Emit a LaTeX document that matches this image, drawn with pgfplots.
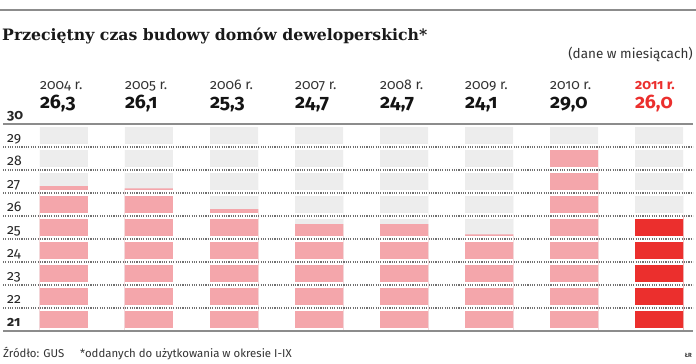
\documentclass[border=0pt]{standalone}
\usepackage{pgfplots}
\pgfplotsset{compat=1.18}
\usepackage{pgfplotstable}
\usepackage{fontspec}
\setmainfont{Fira Sans}[Numbers=OldStyle]
\newfontfamily\titlefont{DejaVu Serif}
\definecolor{cgray}{HTML}{EDEDED}
\definecolor{cpink}{HTML}{F4A6AB}
\definecolor{cred}{HTML}{EB2F2D}
\definecolor{cdot}{HTML}{707070}
\definecolor{caxis}{HTML}{8C8C8C}
\definecolor{ctext}{HTML}{333333}

% visual bar tops (column v: pink bars, column r: highlighted 2011 bar)
\pgfplotstableread{
x v r
0 27.30 0
1 27.20 0
2 26.30 0
3 25.65 0
4 25.65 0
5 25.20 0
6 29.00 0
7 0 26.00
}\bars

\begin{document}
\begin{tikzpicture}
\path[use as bounding box] (0pt,0pt) rectangle (696pt,364pt);
\draw[line width=2pt, caxis] (0pt,354pt) -- (696pt,354pt);
\node[anchor=base west, inner sep=0pt, text=black!90] at (2pt,323pt)
  {\titlefont\bfseries\fontsize{15.7}{18}\selectfont Przeciętny czas budowy domów deweloperskich*};
\node[anchor=base east, inner sep=0pt, text=ctext] at (693pt,305.7pt)
  {\fontsize{13.5}{15}\selectfont (dane w miesiącach)};
\node[anchor=base west, inner sep=0pt, text=ctext] at (3pt,6.5pt)
  {\fontsize{11.4}{12}\selectfont Źródło: GUS};
\node[anchor=base west, inner sep=0pt, text=ctext] at (80pt,6.5pt)
  {\fontsize{11.4}{12}\selectfont *oddanych do użytkowania w okresie I-IX};
\node[anchor=base east, inner sep=0pt, text=ctext] at (692pt,6pt)
  {\fontsize{6}{7}\selectfont\bfseries ŁR};

\begin{axis}[
  at={(3pt,33pt)}, anchor=south west,
  scale only axis, width=690pt, height=207pt,
  xmin=-0.7176, xmax=7.4, ymin=21, ymax=30,
  axis line style={draw=none},
  major tick length=0pt,
  xtick=\empty,
  ytick={22,...,29},
  ymajorgrids,
  major grid style={draw=cdot, line width=1.2pt, dash pattern=on 1.1pt off 1.2pt},
  extra y ticks={21,30},
  extra y tick style={
    major grid style={solid, draw=caxis, line width=2pt},
    yticklabel style={font=\fontsize{14}{14}\selectfont\bfseries}},
  /pgf/number format/assume math mode=true,
  yticklabel style={anchor=base west, inner sep=0pt, xshift=4pt, yshift=4.7pt,
    font=\fontsize{14}{14}\selectfont, text=black!85},
  axis on top,
  clip mode=individual,
]
\pgfplotsinvokeforeach{29,28,...,21}{
  \addplot[ybar, bar width=48pt, bar shift=0pt, fill=cgray, draw=none]
    table[x=x, y expr=#1+0.86]{\bars};
  \addplot[ybar, bar width=48pt, bar shift=0pt, fill=cpink, draw=none]
    table[x=x, y expr={min(\thisrow{v},#1+0.86)}]{\bars};
  \addplot[ybar, bar width=48pt, bar shift=0pt, fill=cred, draw=none]
    table[x=x, y expr={min(\thisrow{r},#1+0.86)}]{\bars};
  \addplot[ybar, bar width=48pt, bar shift=0pt, fill=white, draw=none]
    table[x=x, y expr=#1+0.12]{\bars};
}
\tikzset{yl/.style={anchor=base west, inner sep=0pt, text=ctext, font=\fontsize{14}{14}\selectfont},
         vl/.style={anchor=base west, inner sep=0pt, text=black!92, font=\fontsize{19.5}{20}\selectfont\bfseries}}
\node[yl] at ([xshift=-24pt,yshift=34.7pt]axis cs:0,30) {2004 r.};
\node[yl] at ([xshift=-24pt,yshift=34.7pt]axis cs:1,30) {2005 r.};
\node[yl] at ([xshift=-24pt,yshift=34.7pt]axis cs:2,30) {2006 r.};
\node[yl] at ([xshift=-24pt,yshift=34.7pt]axis cs:3,30) {2007 r.};
\node[yl] at ([xshift=-24pt,yshift=34.7pt]axis cs:4,30) {2008 r.};
\node[yl] at ([xshift=-24pt,yshift=34.7pt]axis cs:5,30) {2009 r.};
\node[yl] at ([xshift=-24pt,yshift=34.7pt]axis cs:6,30) {2010 r.};
\node[yl, text=cred, font=\fontsize{14}{14}\selectfont\bfseries] at ([xshift=-24pt,yshift=34.7pt]axis cs:7,30) {2011 r.};
\node[vl] at ([xshift=-24pt,yshift=15.7pt]axis cs:0,30) {26,3};
\node[vl] at ([xshift=-24pt,yshift=15.7pt]axis cs:1,30) {26,1};
\node[vl] at ([xshift=-24pt,yshift=15.7pt]axis cs:2,30) {25,3};
\node[vl] at ([xshift=-24pt,yshift=15.7pt]axis cs:3,30) {24,7};
\node[vl] at ([xshift=-24pt,yshift=15.7pt]axis cs:4,30) {24,7};
\node[vl] at ([xshift=-24pt,yshift=15.7pt]axis cs:5,30) {24,1};
\node[vl] at ([xshift=-24pt,yshift=15.7pt]axis cs:6,30) {29,0};
\node[vl, text=cred] at ([xshift=-24pt,yshift=15.7pt]axis cs:7,30) {26,0};
\end{axis}
\end{tikzpicture}
\end{document}
